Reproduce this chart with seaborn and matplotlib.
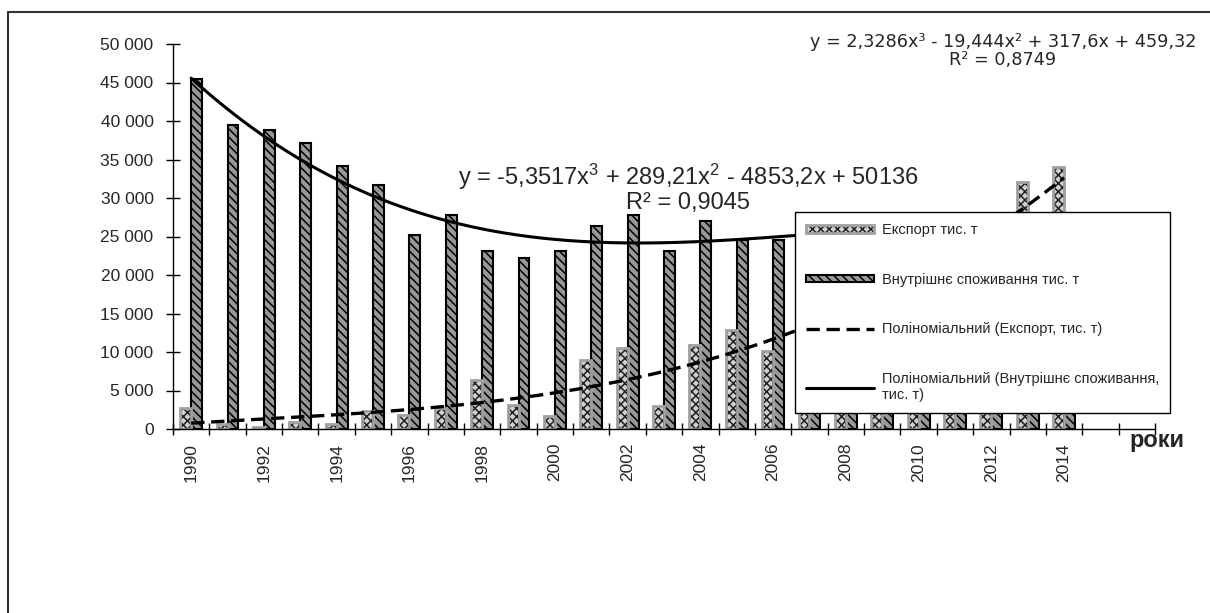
import numpy as np
import pandas as pd
import matplotlib
matplotlib.use("Agg")
import matplotlib.pyplot as plt
import seaborn as sns
from matplotlib.patches import Rectangle, Patch
from matplotlib.lines import Line2D
from matplotlib.ticker import FuncFormatter, FixedLocator

nan = np.nan
years = list(range(1990, 2017))
export = [2730, 690, 200, 860, 650, 2290, 1860, 2730, 6300, 3100, 1640, 8900, 10500,
          2940, 10950, 12800, 10080, 14000, 16500, 17000, 19000, 21500, 25000, 32100,
          34000, nan, nan]
domestic = [45400, 39500, 38800, 37200, 34200, 31700, 25200, 27800, 23100, 22200, 23100,
            26400, 27800, 23100, 27000, 24500, 24600, 27000, 25500, 26000, 24500, 26500,
            27000, 25000, 24500, nan, nan]
series_names = ["Експорт тис. т", "Внутрішнє споживання тис. т"]
trend_names = ["Поліноміальний (Експорт, тис. т)",
               "Поліноміальний (Внутрішнє споживання,\nтис. т)"]
export_poly = [2.3286, -19.444, 317.6, 459.32]
domestic_poly = [-5.3517, 289.21, -4853.2, 50136]
export_eq = "y = 2,3286x³ - 19,444x² + 317,6x + 459,32\nR² = 0,8749"
domestic_eq = "y = -5,3517x$^3$ + 289,21x$^2$ - 4853,2x + 50136\nR² = 0,9045"
xlabel = "роки"

sns.set_style("white")
plt.rcParams["font.family"] = ["Liberation Sans", "DejaVu Sans"]
plt.rcParams["mathtext.fontset"] = "custom"
plt.rcParams["mathtext.rm"] = "Liberation Sans"
plt.rcParams["mathtext.it"] = "Liberation Sans"
plt.rcParams["mathtext.default"] = "regular"
plt.rcParams["hatch.linewidth"] = 1.1

df = pd.DataFrame({
    "year": [str(y) for y in years] * 2,
    "value": export + domestic,
    "series": [series_names[0]] * len(years) + [series_names[1]] * len(years),
})

fig = plt.figure(figsize=(12.1, 6.13), dpi=100)
ax = fig.add_axes([173 / 1210, 1 - 429 / 613, 982 / 1210, 385 / 613])

sns.barplot(data=df, x="year", y="value", hue="series", order=[str(y) for y in years],
            hue_order=series_names, width=0.6, errorbar=None, legend=False, ax=ax,
            saturation=1)

EXP_FACE, EXP_HATCH, EXP_EDGE = "#d0d0d0", "xxxx", "#202020"
DOM_FACE, DOM_HATCH = "#989898", "\\\\\\\\"

exp_c, dom_c = ax.containers[0], ax.containers[1]
for p in exp_c.patches:
    h = p.get_height()
    if np.isnan(h):
        continue
    p.set_facecolor(EXP_FACE)
    p.set_hatch(EXP_HATCH)
    p.set_edgecolor(EXP_EDGE)
    p.set_linewidth(0)
    ax.add_patch(Rectangle(p.get_xy(), p.get_width(), h, fill=False,
                           edgecolor="#a0a0a0", linewidth=2, zorder=p.get_zorder() + 0.1))
for p in dom_c.patches:
    p.set_facecolor(DOM_FACE)
    p.set_hatch(DOM_HATCH)
    p.set_edgecolor("black")
    p.set_linewidth(1.5)

t = np.linspace(1, 25, 300)
ax.plot(t - 1, np.polyval(export_poly, t), color="black", lw=2.4,
        linestyle=(0, (4, 2)), zorder=5)
ax.plot(t - 1, np.polyval(domestic_poly, t), color="black", lw=2.2, zorder=5)

ax.set_xlim(-0.5, len(years) - 0.5)
ax.set_ylim(0, 50000)
ax.set_yticks(np.arange(0, 50001, 5000))
ax.yaxis.set_major_formatter(FuncFormatter(lambda v, _: f"{int(v):,}".replace(",", " ")))
ax.set_xticks(np.arange(-0.5, len(years), 1.0))
ax.set_xticklabels([])
lab_pos = [i for i, y in enumerate(years) if y % 2 == 0 and y <= 2014]
ax.xaxis.set_minor_locator(FixedLocator(lab_pos))
ax.set_xticklabels([str(years[i]) for i in lab_pos], minor=True, rotation=90)
ax.tick_params(axis="x", which="minor", bottom=True, length=0, pad=10, labelsize=12.5)
ax.tick_params(axis="x", which="major", bottom=True, direction="inout", length=9,
               width=1, color="black")
ax.tick_params(axis="y", which="major", left=True, direction="inout", length=10, width=1,
               color="black", labelsize=12.5, pad=9)
ax.set_xlabel("")
ax.set_ylabel("")
for s in ["top", "right"]:
    ax.spines[s].set_visible(False)
for s in ["left", "bottom"]:
    ax.spines[s].set_color("black")
    ax.spines[s].set_linewidth(1)

ax.text(1.0305, -0.03, xlabel, transform=ax.transAxes, ha="right", va="center",
        fontsize=17, fontweight="bold")
fig.text(688 / 1210, 1 - 188 / 613, domestic_eq, ha="center", va="center",
         fontsize=17, linespacing=1.0, zorder=6)
fig.text(1003 / 1210, 1 - 51 / 613, export_eq, ha="center", va="center",
         fontsize=12.7, linespacing=1.05, family=["DejaVu Sans"])

h_exp = (Patch(facecolor=EXP_FACE, hatch=EXP_HATCH, edgecolor=EXP_EDGE, linewidth=0),
         Patch(fill=False, edgecolor="#a0a0a0", linewidth=2))
h_dom = Patch(facecolor=DOM_FACE, hatch=DOM_HATCH, edgecolor="black", linewidth=1.5)
h_tx = Line2D([], [], color="black", lw=2.4, linestyle=(0, (4, 2)))
h_td = Line2D([], [], color="black", lw=2.2)
leg = ax.legend([h_exp, h_dom, h_tx, h_td], series_names + trend_names,
                loc="upper left", bbox_to_anchor=((795 - 173) / 982, (429 - 212) / 385),
                frameon=True, fancybox=False, shadow=False, edgecolor="black",
                fontsize=10.5, handlelength=4.7, handleheight=0.45, labelspacing=2.45,
                borderpad=0.75, handletextpad=0.5, framealpha=1, borderaxespad=0)
leg.get_frame().set_linewidth(1)
leg.set_zorder(10)

x0 = 8 / 1210
y0 = 1 - 12 / 613
fig.add_artist(Line2D([x0, x0], [0, y0], transform=fig.transFigure, color="#333333", lw=1.5))
fig.add_artist(Line2D([x0, 1], [y0, y0], transform=fig.transFigure, color="#333333", lw=1.5))

fig.savefig("out.png", dpi=100, facecolor="white")
